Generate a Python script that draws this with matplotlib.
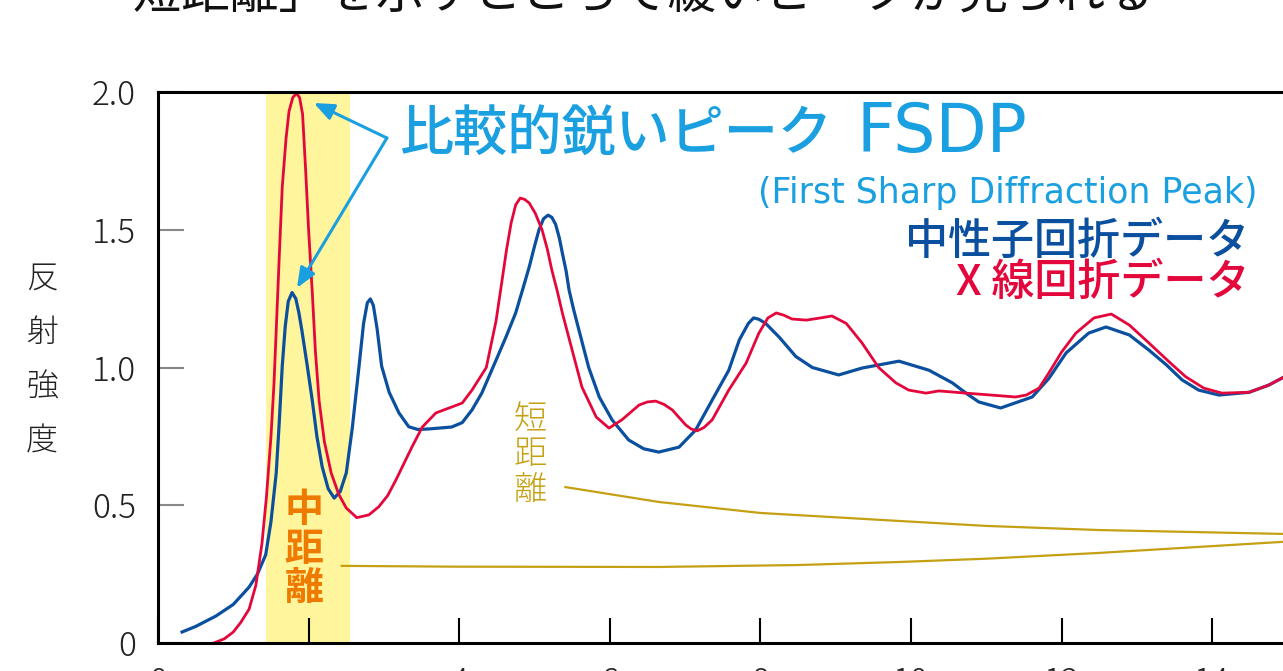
import matplotlib
matplotlib.use("Agg")
import matplotlib.pyplot as plt

plt.rcParams['font.family'] = ['Noto Sans CJK JP', 'DejaVu Sans']

# 中性子回折データ (blue)
neutron_q = [0.32, 0.50, 0.77, 1.00, 1.21, 1.32, 1.43, 1.50, 1.57, 1.61, 1.65, 1.69, 1.73, 1.78, 1.83,
             1.87, 1.91, 1.98, 2.05, 2.11, 2.18, 2.26, 2.34, 2.42, 2.50, 2.58, 2.67, 2.73, 2.78, 2.82,
             2.86, 2.91, 2.97, 3.07, 3.20, 3.33, 3.45, 3.60, 3.90, 4.04, 4.17, 4.30, 4.49, 4.62, 4.75,
             4.85, 4.93, 5.00, 5.06, 5.12, 5.18, 5.23, 5.28, 5.33, 5.37, 5.42, 5.46, 5.52, 5.59, 5.72,
             5.86, 6.03, 6.25, 6.45, 6.65, 6.92, 7.14, 7.36, 7.58, 7.72, 7.84, 7.91, 7.98, 8.07, 8.25,
             8.47, 8.69, 9.04, 9.35, 9.84, 10.24, 10.55, 10.73, 10.90, 11.19, 11.61, 11.83, 12.06,
             12.36, 12.59, 12.90, 13.16, 13.39, 13.60, 13.82, 14.09, 14.49, 14.75, 14.93]
neutron_s = [0.04, 0.06, 0.098, 0.14, 0.203, 0.25, 0.32, 0.44, 0.617, 0.80, 1.005, 1.15, 1.24, 1.272, 1.25,
             1.20, 1.136, 1.01, 0.878, 0.75, 0.64, 0.56, 0.526, 0.55, 0.617, 0.78, 1.005, 1.16, 1.235, 1.249,
             1.225, 1.14, 1.005, 0.91, 0.835, 0.785, 0.775, 0.777, 0.784, 0.80, 0.846, 0.907, 1.027, 1.11, 1.198,
             1.29, 1.365, 1.44, 1.50, 1.54, 1.553, 1.545, 1.52, 1.47, 1.415, 1.35, 1.28, 1.21, 1.136, 1.00,
             0.893, 0.81, 0.737, 0.705, 0.693, 0.711, 0.773, 0.882, 0.99, 1.10, 1.16, 1.18, 1.175, 1.16, 1.11,
             1.04, 1.00, 0.973, 0.998, 1.023, 0.99, 0.944, 0.907, 0.875, 0.853, 0.893, 0.96, 1.053,
             1.125, 1.147, 1.118, 1.063, 1.01, 0.955, 0.918, 0.90, 0.91, 0.936, 0.962]

# X 線回折データ (red)
xray_q = [0.74, 0.88, 1.00, 1.10, 1.21, 1.30, 1.38, 1.44, 1.50, 1.54, 1.57, 1.61, 1.65, 1.70, 1.74, 1.79,
          1.84, 1.88, 1.92, 1.96, 2.00, 2.05, 2.09, 2.14, 2.21, 2.30, 2.40, 2.50, 2.64, 2.80, 2.93,
          3.05, 3.16, 3.37, 3.51, 3.69, 4.04, 4.17, 4.36, 4.49, 4.57, 4.63, 4.69, 4.75, 4.81, 4.87,
          4.93, 5.01, 5.10, 5.17, 5.23, 5.30, 5.37, 5.50, 5.63, 5.82, 5.99, 6.16, 6.39, 6.50, 6.61,
          6.72, 6.83, 7.01, 7.08, 7.16, 7.25, 7.36, 7.58, 7.81, 7.98, 8.10, 8.21, 8.31, 8.42, 8.61,
          8.80, 8.95, 9.14, 9.35, 9.57, 9.80, 9.97, 10.20, 10.37, 10.73, 11.39, 11.53, 11.70, 11.83,
          12.00, 12.19, 12.43, 12.66, 12.90, 13.16, 13.43, 13.65, 13.89, 14.13, 14.49, 14.75, 14.93]
xray_s = [0.0, 0.015, 0.04, 0.075, 0.123, 0.21, 0.36, 0.53, 0.748, 0.94, 1.136, 1.40, 1.655, 1.83, 1.93, 1.98,
          1.995, 1.98, 1.92, 1.72, 1.50, 1.267, 1.06, 0.878, 0.73, 0.617, 0.54, 0.49, 0.455, 0.465, 0.494,
          0.535, 0.592, 0.71, 0.784, 0.835, 0.871, 0.918, 1.0, 1.17, 1.318, 1.43, 1.525, 1.59, 1.615, 1.61,
          1.597, 1.56, 1.50, 1.43, 1.354, 1.28, 1.198, 1.063, 0.929, 0.82, 0.78, 0.81, 0.864, 0.875, 0.878,
          0.866, 0.846, 0.791, 0.777, 0.77, 0.782, 0.81, 0.918, 1.016, 1.125, 1.18, 1.198, 1.19, 1.176, 1.172,
          1.18, 1.187, 1.16, 1.089, 1.0, 0.944, 0.918, 0.907, 0.915, 0.907, 0.893, 0.90, 0.925, 0.98,
          1.056, 1.125, 1.18, 1.194, 1.154, 1.089, 1.02, 0.966, 0.925, 0.907, 0.91, 0.936, 0.962]

# 短距離 / 中距離 leader lines
short_q = [5.41, 6.65, 8.0, 9.84, 11.0, 12.5, 14.93]
short_s = [0.566, 0.512, 0.472, 0.443, 0.425, 0.41, 0.396]
mid_q = [2.44, 4.0, 6.65, 8.5, 9.84, 11.0, 12.5, 14.93]
mid_s = [0.28, 0.277, 0.276, 0.283, 0.294, 0.306, 0.327, 0.367]

mid_band = (1.43, 2.55)
x_ticks = [0, 2, 4, 6, 8, 10, 12, 14]
x_labels = ['0', '', '4', '6', '8', '10', '12', '14']
y_ticks = [0, 0.5, 1.0, 1.5, 2.0]
y_labels = ['0', '0.5', '1.0', '1.5', '2.0']

blue = '#0b4f9f'
red = '#e3073c'
sky = '#1a9fe0'
gold = '#c5a013'

fig = plt.figure(figsize=(12.83, 6.71), dpi=100)
ax = fig.add_axes([158 / 1283, 28 / 671, 15 * 75.3 / 1283, 551 / 671])

ax.axvspan(*mid_band, color='#fff59c', zorder=0, lw=0)
ax.plot(mid_q, mid_s, color=gold, lw=1.6)
ax.plot(short_q, short_s, color=gold, lw=1.6)
ax.plot(neutron_q, neutron_s, color=blue, lw=2.3, solid_joinstyle='round')
ax.plot(xray_q, xray_s, color=red, lw=2.0, solid_joinstyle='round')

ax.set_xlim(0, 15)
ax.set_ylim(0, 2.0)
ax.set_xticks(x_ticks)
ax.set_xticklabels(x_labels)
ax.set_yticks(y_ticks)
ax.set_yticklabels(y_labels)
ax.tick_params(axis='x', direction='in', length=18, width=1.5, color='black',
               labelsize=24, pad=16, labelcolor='#222222')
ax.tick_params(axis='y', direction='in', length=19, width=1.5, color='#888888',
               labelsize=24, pad=16, labelcolor='#222222')
for lab in ax.get_xticklabels() + ax.get_yticklabels():
    lab.set_fontweight('light')
for s in ['left', 'bottom', 'top']:
    ax.spines[s].set_linewidth(2.2)
ax.spines['right'].set_visible(False)

# arrows to the FSDP peaks
vertex = (3.04, 1.833)
for tip in [(2.07, 1.96), (1.846, 1.289)]:
    ax.annotate('', xy=tip, xytext=vertex,
                arrowprops=dict(arrowstyle='-|>,head_length=1.2,head_width=0.5', color=sky, lw=2.2,
                                shrinkA=0, shrinkB=0))

ax.text(3.2, 1.844, '比較的鋭いピーク', color=sky, fontsize=39, fontweight='medium',
        ha='left', va='center')
ax.text(9.27, 1.85, 'FSDP', color=sky, fontsize=48, family='DejaVu Sans',
        ha='left', va='center')
ax.text(14.6, 1.633, '(First Sharp Diffraction Peak)', color=sky, fontsize=25,
        family='DejaVu Sans', ha='right', va='center')
ax.text(14.49, 1.456, '中性子回折データ', color=blue, fontsize=31, fontweight='medium',
        ha='right', va='center')
ax.text(14.49, 1.31, 'X 線回折データ', color=red, fontsize=31, fontweight='medium',
        ha='right', va='center')
ax.text(4.94, 0.682, '短\n距\n離', color=gold, fontsize=24, ha='center', va='center',
        linespacing=1.05, fontweight='light')
ax.text(1.94, 0.341, '中\n距\n離', color='#ef7a00', fontsize=28, ha='center', va='center',
        linespacing=1.0, fontweight='bold')

fig.text(42 / 1283, 1 - 360 / 671, '反\n射\n強\n度', fontsize=23, ha='center', va='center',
         linespacing=1.75, color='#222222', fontweight='light')
fig.text(619 / 1283, 1 + 6 / 671, '「短距離」を示すところで緩いピークが見られる', fontsize=35,
         ha='center', va='center', color='#111111')

fig.savefig('out.png', dpi=100)
